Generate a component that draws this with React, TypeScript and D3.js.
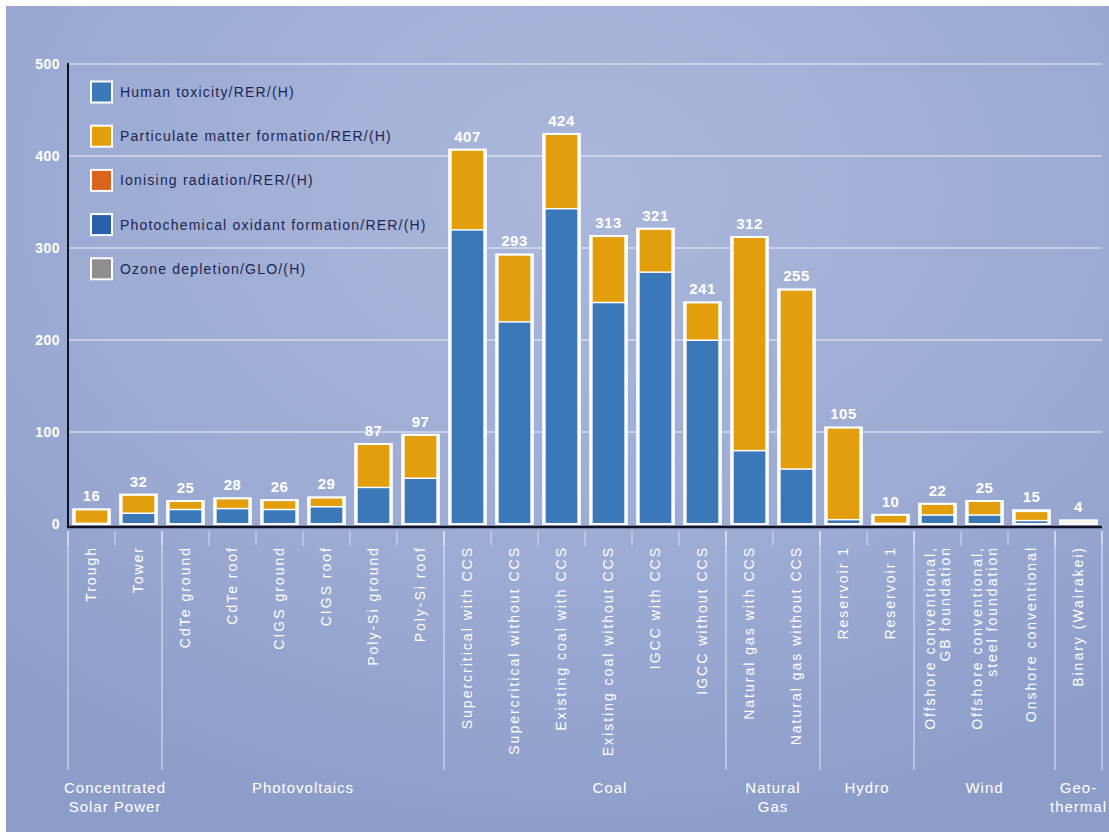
import React from "react";
import * as d3 from "d3";

const categories = [
  "Trough", "Tower", "CdTe ground", "CdTe roof", "CIGS ground", "CIGS roof",
  "Poly-Si ground", "Poly-Si roof", "Supercritical with CCS", "Supercritical without CCS",
  "Existing coal with CCS", "Existing coal without CCS", "IGCC with CCS", "IGCC without CCS",
  "Natural gas with CCS", "Natural gas without CCS", "Reservoir 1", "Reservoir 1",
  "Offshore conventional,|GB foundation", "Offshore conventional,|steel foundation",
  "Onshore conventional", "Binary (Wairakei)",
];
const totals = [16, 32, 25, 28, 26, 29, 87, 97, 407, 293, 424, 313, 321, 241, 312, 255, 105, 10, 22, 25, 15, 4];
const humanToxicity = [1, 12, 16, 17, 16, 19, 40, 50, 320, 220, 343, 241, 274, 200, 80, 60, 5, 1, 10, 10, 4, 2];
const particulate = [15, 20, 9, 11, 10, 10, 47, 47, 87, 73, 81, 72, 47, 41, 232, 195, 100, 9, 12, 15, 10, 2];
const ionising = [0, 0, 0, 0, 0, 0, 0, 0, 0, 0, 0, 0, 0, 0, 0, 0, 0, 0, 0, 0, 0, 0];
const photochemical = [0, 0, 0, 0, 0, 0, 0, 0, 0, 0, 0, 0, 0, 0, 0, 0, 0, 0, 0, 0, 1, 0];
const ozone = [0, 0, 0, 0, 0, 0, 0, 0, 0, 0, 0, 0, 0, 0, 0, 0, 0, 0, 0, 0, 0, 0];
const seriesNames = [
  "Human toxicity/RER/(H)",
  "Particulate matter formation/RER/(H)",
  "Ionising radiation/RER/(H)",
  "Photochemical oxidant formation/RER/(H)",
  "Ozone depletion/GLO/(H)",
];
const seriesColors = ["#3b78b8", "#e29e0c", "#d9641e", "#2b5dab", "#8e8e8e"];
const yTicks = [0, 100, 200, 300, 400, 500];
const groups = [
  { lines: ["Concentrated", "Solar Power"], start: 0, end: 2, shift: 0 },
  { lines: ["Photovoltaics"], start: 2, end: 8, shift: 0 },
  { lines: ["Coal"], start: 8, end: 14, shift: 25 },
  { lines: ["Natural", "Gas"], start: 14, end: 16, shift: 0 },
  { lines: ["Hydro"], start: 16, end: 18, shift: 0 },
  { lines: ["Wind"], start: 18, end: 21, shift: 0 },
  { lines: ["Geo-", "thermal"], start: 21, end: 22, shift: 0 },
];

const W = 1109, H = 834;
const X0 = 68, X1 = 1102, Y0 = 524, Y1 = 64;
const FONT = "'Liberation Sans', Arial, sans-serif";

export default function App() {
  const idx = categories.map((_, i) => i);
  const x = d3.scaleBand<number>().domain(idx).range([X0, X1]).paddingInner(0.22).paddingOuter(0.11);
  const step = x.step();
  const y = d3.scaleLinear().domain([0, 500]).range([Y0, Y1]);
  const seriesData = [humanToxicity, particulate, ionising, photochemical, ozone];
  const rows = idx.map((i) => {
    const r: any = { i };
    seriesNames.forEach((s, k) => (r[s] = seriesData[k][i]));
    return r;
  });
  const stacked = d3.stack<any>().keys(seriesNames)(rows);
  const boundary = (k: number) => X0 + k * step;

  return (
    <svg width={W} height={H} style={{ position: "absolute", left: 0, top: 0 }} fontFamily={FONT}>
      <defs>
        <radialGradient id="bg" cx="0.52" cy="0.22" r="0.8">
          <stop offset="0" stopColor="#abb7dc" />
          <stop offset="0.6" stopColor="#9cabd3" />
          <stop offset="1" stopColor="#8d9dca" />
        </radialGradient>
      </defs>
      <rect x={0} y={0} width={W} height={H} fill="#ffffff" />
      <rect x={6} y={6} width={W - 6} height={826} fill="url(#bg)" />

      {/* gridlines */}
      {yTicks.filter((t) => t > 0).map((t) => (
        <line key={t} x1={X0} x2={X1} y1={y(t)} y2={y(t)} stroke="#ffffff" strokeOpacity={0.55} strokeWidth={1.5} />
      ))}

      {/* y tick labels */}
      {yTicks.map((t) => (
        <text key={t} x={60} y={y(t)} dy="0.35em" textAnchor="end" fill="#ffffff" fontSize={14} fontWeight="bold" letterSpacing={0.5}>
          {t}
        </text>
      ))}

      {/* bars */}
      {idx.map((i) => {
        const bx = x(i)!;
        const bw = x.bandwidth();
        const top = y(totals[i]);
        return (
          <g key={i}>
            <rect x={bx} y={top} width={bw} height={Y0 - top} fill="#ffffff" />
            {stacked.map((s, k) => {
              const d = s[i];
              const h = y(d[0]) - y(d[1]);
              if (h <= 0) return null;
              return (
                <rect key={k} x={bx + 2.5} y={y(d[1]) + 1} width={bw - 5} height={Math.max(0, h - 1.5)} fill={seriesColors[k]} />
              );
            })}
            <rect x={bx} y={top} width={bw} height={Y0 - top} fill="none" stroke="#ffffff" strokeWidth={2} />
            <text x={bx + bw / 2} y={top - 8} textAnchor="middle" fill="#ffffff" fontSize={15} fontWeight="bold" letterSpacing={0.5}>
              {totals[i]}
            </text>
          </g>
        );
      })}

      {/* axes */}
      <line x1={X0} x2={X0} y1={Y1 - 1} y2={Y0 + 3} stroke="#101325" strokeWidth={2} />
      <line x1={X0 - 1} x2={X1} y1={Y0 + 3} y2={Y0 + 3} stroke="#101325" strokeWidth={2.5} />

      {/* ticks between categories */}
      {d3.range(0, categories.length + 1).map((k) => (
        <line key={k} x1={boundary(k)} x2={boundary(k)} y1={531} y2={546} stroke="#ffffff" strokeOpacity={0.6} strokeWidth={1} />
      ))}
      {/* group separators */}
      {Array.from(new Set(groups.flatMap((g) => [g.start, g.end]))).map((k) => (
        <line key={"g" + k} x1={boundary(k)} x2={boundary(k)} y1={531} y2={770} stroke="#ffffff" strokeOpacity={0.75} strokeWidth={1} />
      ))}

      {/* category labels */}
      {idx.map((i) => {
        const cx = x(i)! + x.bandwidth() / 2;
        const parts = categories[i].split("|");
        return parts.map((p, j) => {
          const lx = cx + (j - (parts.length - 1) / 2) * 15;
          return (
            <text key={i + "-" + j} transform={`translate(${lx},546) rotate(-90)`} dy="0.35em" textAnchor="end" fill="#ffffff" fontSize={14} letterSpacing={2}>
              {p}
            </text>
          );
        });
      })}

      {/* group labels */}
      {groups.map((g, gi) => {
        const cx = (boundary(g.start) + boundary(g.end)) / 2 + g.shift;
        return (
          <text key={gi} x={cx} y={793} textAnchor="middle" fill="#ffffff" fontSize={15} letterSpacing={1}>
            {g.lines.map((l, j) => (
              <tspan key={j} x={cx} dy={j === 0 ? 0 : 19}>{l}</tspan>
            ))}
          </text>
        );
      })}

      {/* legend */}
      {seriesNames.map((s, k) => {
        const cy = 92 + k * 44.2;
        return (
          <g key={s}>
            <rect x={91} y={cy - 10.5} width={21} height={21} fill={seriesColors[k]} stroke="#ffffff" strokeWidth={2} />
            <text x={120} y={cy} dy="0.35em" fill="#1c2650" fontSize={14} letterSpacing={1.2}>
              {s}
            </text>
          </g>
        );
      })}
    </svg>
  );
}
